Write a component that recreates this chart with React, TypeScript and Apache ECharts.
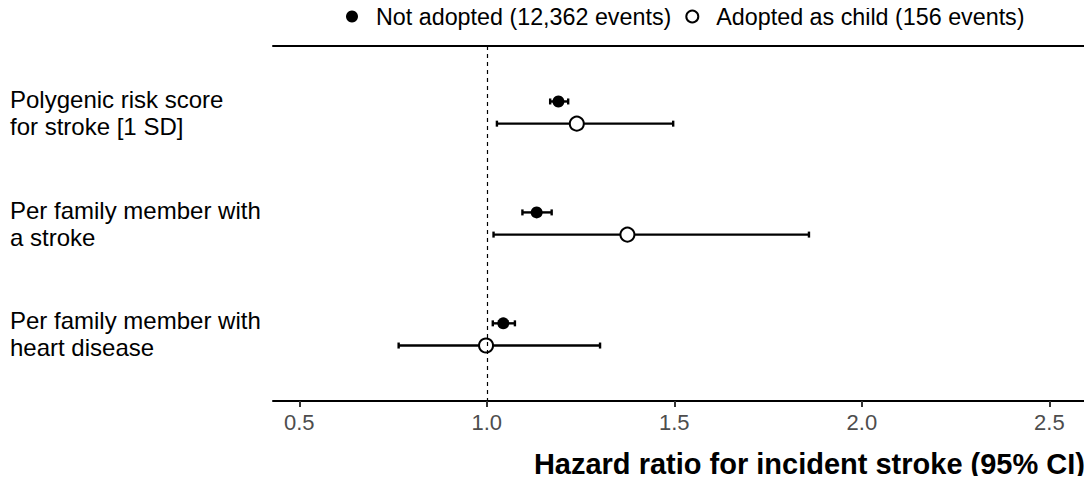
import React, { useEffect, useRef } from "react";
import * as echarts from "echarts";

const ROW_LABELS = [
  "Polygenic risk score\nfor stroke [1 SD]",
  "Per family member with\na stroke",
  "Per family member with\nheart disease",
];
const ROW_INDEX = [1, 2, 3];

const SERIES_NAMES = ["Not adopted (12,362 events)", "Adopted as child (156 events)"];

// Not adopted
const NA_HR = [1.191, 1.133, 1.044];
const NA_LO = [1.169, 1.095, 1.016];
const NA_HI = [1.217, 1.173, 1.075];

// Adopted as child
const AD_HR = [1.24, 1.375, 0.998];
const AD_LO = [1.027, 1.018, 0.765];
const AD_HI = [1.497, 1.859, 1.302];

const X_TICKS = [0.5, 1.0, 1.5, 2.0, 2.5];
const REF_LINE = 1;

const DODGE = 0.1;
const FONT = "Liberation Sans, Arial, Helvetica, sans-serif";

function errorBarSeries(lo: number[], hi: number[], offset: number) {
  return {
    type: "custom",
    silent: true,
    z: 2,
    data: ROW_INDEX.map((r, i) => [lo[i], hi[i], r + offset]),
    encode: { x: [0, 1], y: 2 },
    renderItem: (params: any, api: any) => {
      const a = api.coord([api.value(0), api.value(2)]);
      const b = api.coord([api.value(1), api.value(2)]);
      const cap = 3;
      const style = { stroke: "#000", lineWidth: 2.4 };
      return {
        type: "group",
        children: [
          { type: "line", shape: { x1: a[0], y1: a[1], x2: b[0], y2: b[1] }, style },
          { type: "line", shape: { x1: a[0], y1: a[1] - cap, x2: a[0], y2: a[1] + cap }, style },
          { type: "line", shape: { x1: b[0], y1: b[1] - cap, x2: b[0], y2: b[1] + cap }, style },
        ],
      };
    },
  };
}

export default function App() {
  const ref = useRef<HTMLDivElement>(null);
  useEffect(() => {
    if (!ref.current) return;
    const chart = echarts.init(ref.current, null, { renderer: "svg" });
    chart.setOption({
      animation: false,
      textStyle: { fontFamily: FONT },
      title: {
        text: "Hazard ratio for incident stroke (95% CI)",
        right: 7,
        top: 449,
        padding: 0,
        textStyle: { fontFamily: FONT, fontSize: 29, fontWeight: "bold", color: "#000" },
      },
      legend: {
        left: 341,
        top: 0,
        itemWidth: 12,
        itemHeight: 12,
        itemGap: 14,
        data: SERIES_NAMES,
        textStyle: { fontFamily: FONT, fontSize: 23.3, color: "#000", padding: [0, 0, 0, 13] },
      },
      grid: { left: 273, right: 7, top: 46, bottom: 83 },
      xAxis: [
        {
          type: "value",
          min: 0.43,
          max: 2.595,
          position: "bottom",
          axisLine: { show: true, lineStyle: { color: "#000", width: 2 } },
          axisTick: { show: true, length: 6, customValues: X_TICKS, lineStyle: { color: "#333", width: 2 } },
          axisLabel: {
            customValues: X_TICKS,
            formatter: (v: number) => v.toFixed(1),
            fontSize: 22,
            color: "#4D4D4D",
            margin: 10,
            fontFamily: FONT,
          },
          splitLine: { show: false },
        },
        {
          type: "value",
          min: 0.43,
          max: 2.595,
          position: "top",
          axisLine: { show: true, lineStyle: { color: "#000", width: 2 } },
          axisTick: { show: false },
          axisLabel: { show: false },
          splitLine: { show: false },
        },
      ],
      yAxis: {
        type: "value",
        min: 0.4,
        max: 3.6,
        inverse: true,
        axisLine: { show: false },
        axisTick: { show: false },
        splitLine: { show: false },
        axisLabel: {
          customValues: ROW_INDEX,
          formatter: (v: number) => ROW_LABELS[Math.round(v) - 1] ?? "",
          align: "left",
          verticalAlign: "middle",
          margin: 263,
          fontSize: 24,
          lineHeight: 27,
          color: "#000",
          fontFamily: FONT,
        },
      },
      series: [
        errorBarSeries(NA_LO, NA_HI, -DODGE),
        errorBarSeries(AD_LO, AD_HI, DODGE),
        {
          name: SERIES_NAMES[0],
          type: "scatter",
          symbol: "circle",
          symbolSize: 12,
          z: 3,
          itemStyle: { color: "#000", opacity: 1 },
          data: ROW_INDEX.map((r, i) => [NA_HR[i], r - DODGE]),
          markLine: {
            silent: true,
            symbol: ["none", "none"],
            label: { show: false },
            lineStyle: { color: "#000", width: 1.2, type: [4, 4] },
            data: [{ xAxis: REF_LINE }],
          },
        },
        {
          name: SERIES_NAMES[1],
          type: "scatter",
          symbol: "circle",
          symbolSize: 14,
          z: 3,
          itemStyle: { color: "#fff", borderColor: "#000", borderWidth: 2, opacity: 1 },
          data: ROW_INDEX.map((r, i) => [AD_HR[i], r + DODGE]),
        },
      ],
    });
    return () => chart.dispose();
  }, []);
  return <div ref={ref} style={{ width: 1092, height: 484, margin: -8 }} />;
}
